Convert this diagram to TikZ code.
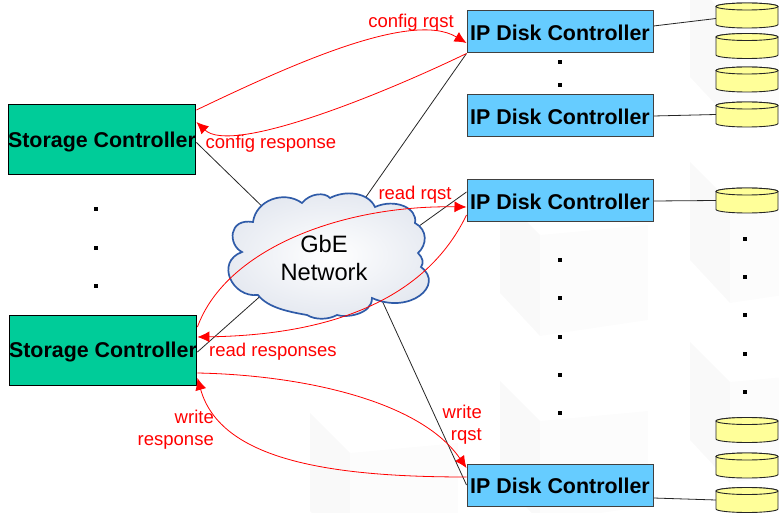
\documentclass[tikz,border=0pt]{standalone}
\usepackage{fontspec}
\setmainfont{Liberation Sans}
\usetikzlibrary{shapes,arrows.meta,positioning,calc,backgrounds}
\definecolor{storegreen}{HTML}{00CC99}
\definecolor{ctrlblue}{HTML}{66CCFF}
\definecolor{diskyellow}{HTML}{FFFF99}
\definecolor{cloudblue}{HTML}{2F5BA8}
\definecolor{cloudgray}{HTML}{E4E8F0}
\definecolor{markred}{HTML}{FF0000}

\begin{document}
\begin{tikzpicture}[
    x=1pt, y=-1pt,
    storagebox/.style={draw=black, fill=storegreen, rectangle, minimum width=186pt, minimum height=70pt, inner sep=0pt, text depth=0pt, line width=1pt, font=\fontsize{21.4}{24}\bfseries\selectfont},
    ctrlbox/.style={draw=black!75, fill=ctrlblue, rectangle, minimum width=186pt, minimum height=42pt, inner sep=0pt, text height=17pt, text depth=0pt, line width=1pt, font=\fontsize{21.4}{24}\bfseries\selectfont},
    diskdrum/.style={rectangle, minimum width=62pt, minimum height=25pt, inner sep=0pt, outer sep=0pt},
    diskline/.style={draw=black!85, fill=diskyellow, line width=0.9pt},
    dotmark/.style={fill=black, rectangle, minimum size=4pt, inner sep=0pt},
    wire/.style={draw=black!85, line width=0.8pt},
    msg/.style={-{Latex[length=12pt,width=11pt]}, draw=markred, fill=none, line width=0.8pt},
    msglabel/.style={text=markred, align=right, font=\fontsize{18.5}{22}\selectfont, inner sep=0pt}
]
    \useasboundingbox (0,0) rectangle (779,513);

    % Storage and disk controllers
    \node[storagebox] (sc1) at (102,139.5) {Storage Controller};
    \node[storagebox] (sc2) at (103,350) {Storage Controller};
    \node[ctrlbox] (ctrl1) at (560,32) {IP Disk Controller};
    \node[ctrlbox] (ctrl2) at (560,116) {IP Disk Controller};
    \node[ctrlbox] (ctrl3) at (560,201) {IP Disk Controller};
    \node[ctrlbox] (ctrl4) at (560,485) {IP Disk Controller};

    % Disks
    \foreach \name/\ypos in {disk1/15.5, disk2/46, disk3/79.5, disk4/114.5, disk5/200.5, disk6/430, disk7/465.5, disk8/500} {
        \node[diskdrum] (\name) at (747,\ypos) {};
        \draw[diskline] ([yshift=-3.5pt]\name.north west) arc[start angle=180, end angle=0, x radius=31pt, y radius=3.5pt]
            -- ([yshift=3.5pt]\name.south east) arc[start angle=0, end angle=-180, x radius=31pt, y radius=3.5pt] -- cycle;
        \draw[diskline] ([yshift=-3.5pt]\name.north) ellipse[x radius=31pt, y radius=3.5pt];
    }

    % Cloud
    \path[draw=cloudblue, line width=1.7pt, shading=radial, inner color=white, outer color=cloudgray]
        (253,222) .. controls (256,200) and (284,190) .. (302,203)
        .. controls (310,193) and (325,192) .. (330,198)
        .. controls (345,190) and (368,192) .. (375,207)
        .. controls (395,198) and (418,208) .. (415,223)
        .. controls (428,230) and (427,245) .. (418,253)
        .. controls (423,258) and (424,263) .. (421,267)
        .. controls (445,285) and (410,315) .. (372,298)
        .. controls (372,315) and (345,318) .. (337,315)
        .. controls (328,320) and (315,320) .. (307,315)
        .. controls (290,312) and (268,308) .. (258,295)
        .. controls (232,298) and (215,262) .. (242,252)
        .. controls (228,245) and (228,218) .. (253,222) -- cycle;
    \node[align=center, inner sep=0pt, font=\fontsize{23.7}{28}\selectfont] (net) at (324,258) {GbE\\Network};

    % Dots
    \foreach \ypos in {209,248,286}
        \node[dotmark] (leftdot\ypos) at (96,\ypos) {};
    \foreach \ypos in {62,85,260,298,337,375,413}
        \node[dotmark] (middot\ypos) at (560,\ypos) {};
    \foreach \ypos in {239,277,315,354,392}
        \node[dotmark] (rightdot\ypos) at (745,\ypos) {};

    \begin{scope}[on background layer]
        % Faint blocks behind everything
        \foreach \xpos/\ypos in {500/195, 500/381, 310/413, 690/-21, 690/162, 690/342} {
            \fill[black!2.5] (\xpos,\ypos) -- ++(40,40) -- ++(0,101) -- ++(-40,-43) -- cycle;
            \fill[black!1] (\xpos+40,\ypos+40) -- ++(108,-10) -- ++(0,95) -- ++(-108,16) -- cycle;
        }
        % Wires
        \draw[wire] ([yshift=-3pt]sc1.east) -- ([shift={(-50pt,40pt)}]net.center);
        \draw[wire] ([yshift=-2pt]sc2.east) -- ([shift={(-50pt,-26pt)}]net.center);
        \draw[wire] (ctrl1.south west) -- ([shift={(30pt,44pt)}]net.center);
        \draw[wire] ([yshift=9pt]ctrl3.west) -- ([shift={(70pt,14pt)}]net.center);
        \draw[wire] (ctrl4.west) -- ([shift={(50pt,-25pt)}]net.center);
        \draw[wire] ([yshift=6pt]ctrl1.east) -- ([yshift=-3pt]disk1.west);
        \draw[wire] (ctrl2.east) -- (disk4.west);
        \draw[wire] (ctrl3.east) -- (disk5.west);
        \draw[wire] ([yshift=-13pt]ctrl4.east) -- (disk8.west);
    \end{scope}

    % Messages
    \draw[msg] ([yshift=29.5pt]sc1.east) .. controls +(94,-45) and +(-55,-33) .. ([yshift=-11pt]ctrl1.west);
    \draw[msg] (ctrl1.south west) .. controls +(-87,42) and +(35,33) .. ([yshift=17.5pt]sc1.east);
    \draw[msg] ([yshift=23pt]sc2.east) .. controls +(28,-77) and +(-127,-2) .. ([yshift=-6pt]ctrl3.west);
    \draw[msg] ([yshift=-14pt]ctrl3.west) .. controls +(-41,85) and +(133,-2) .. ([yshift=13pt]sc2.east);
    \draw[msg] ([yshift=-23pt]sc2.east) .. controls +(103,2) and +(-47,-68) .. ([yshift=17pt]ctrl4.west);
    \draw[msg] ([yshift=8pt]ctrl4.west) .. controls +(-137,0) and +(23,82) .. ([yshift=-28pt]sc2.east);

    % Message labels
    \node[msglabel] (cfgrqst) at (411,23) {config rqst};
    \node[msglabel] (cfgresp) at (271,144) {config response};
    \node[msglabel] (rdrqst) at (415,195) {read rqst};
    \node[msglabel] (rdresp) at (273,352) {read responses};
    \node[msglabel, anchor=east] (wrresp) at (214,430) {write\\response};
    \node[msglabel, anchor=east] (wrrqst) at (482,425) {write\\rqst};
\end{tikzpicture}
\end{document}
